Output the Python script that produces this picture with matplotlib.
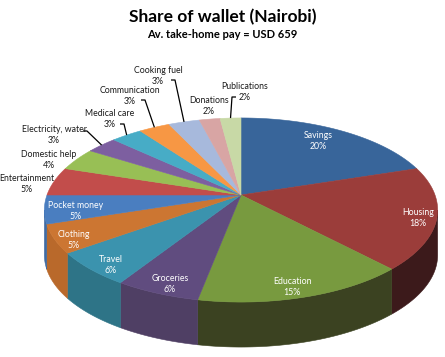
import numpy as np
import matplotlib.pyplot as plt

# share of wallet, percent
categories = ["Savings", "Housing", "Education", "Groceries", "Travel",
              "Clothing", "Pocket money", "Entertainment", "Domestic help",
              "Electricity, water", "Medical care", "Communication",
              "Cooking fuel", "Donations", "Publications"]
shares = [20, 18, 15, 6, 6, 5, 5, 5, 4, 3, 3, 3, 3, 2, 2]

title = "Share of wallet (Nairobi)"
subtitle = "Av. take-home pay = USD 659"

top_colors = ["#38659A", "#9B3D3A", "#789A3F", "#604C7F", "#3B93AE",
              "#CC7632", "#4A7EC0", "#C24D4B", "#98BF55", "#7D5FA0",
              "#47ACC6", "#F79744", "#A7B9DC", "#D8A5A4", "#C8D9A6"]
side_colors = ["#2A4B72", "#3C1A1B", "#3B4221", "#4F3F64", "#2E7487",
               "#B9692B", "#3F6BA3", "#A04040", "#7F9F47", "#685085",
               "#3B90A6", "#CF7E38", "#8C9CB9", "#B58A89", "#A7B68B"]

# label layout (pixel coords, y down)
label_pos = [(318, 141), (418, 218), (292, 287), (170, 284), (111, 265),
             (74, 240), (76, 211), (27, 184), (49, 160), (54, 135),
             (110, 119), (130, 96), (158, 76), (209, 106), (245, 92)]
inside = {"Savings", "Housing", "Education", "Groceries", "Travel",
          "Clothing", "Pocket money"}
# where the leader line leaves the label
leader_from = {"Electricity, water": (83, 131), "Medical care": (120, 124),
               "Communication": (141, 100), "Cooking fuel": (171, 80),
               "Publications": (236, 97)}

W, H = 445, 357
CX, CY = 241, 195
A, B, K = 194, 89.6, 0.163
DEPTH = 45


def project(phi, r=1.0, drop=0.0):
    u = r * np.sin(phi)
    v = -r * np.cos(phi)
    w = 1 - K * v
    return CX + A * u / w, CY + B * v / w + drop


fig = plt.figure(figsize=(W / 100, H / 100), dpi=100)
ax = fig.add_axes([0, 0, 1, 1])
ax.set_xlim(0, W)
ax.set_ylim(H, 0)
ax.axis("off")

fracs = np.array(shares, dtype=float) / sum(shares)
edges = np.concatenate([[0], np.cumsum(fracs)]) * 2 * np.pi

# front-facing part of the rim, between the left and right extremes
grid = np.linspace(0, 2 * np.pi, 3601)
gx, _ = project(grid)
phi_right = grid[:1800][np.argmax(gx[:1800])]
phi_left = grid[1800:][np.argmin(gx[1800:])]

for i in range(len(shares)):
    a, b = max(edges[i], phi_right), min(edges[i + 1], phi_left)
    if b <= a:
        continue
    t = np.linspace(a, b, 80)
    x1, y1 = project(t)
    x2, y2 = project(t[::-1], drop=DEPTH)
    ax.fill(np.r_[x1, x2], np.r_[y1, y2], color=side_colors[i],
            lw=0.4, ec=side_colors[i], zorder=1)

for i in range(len(shares)):
    t = np.linspace(edges[i], edges[i + 1], 120)
    x, y = project(t)
    ax.fill(np.r_[CX, x], np.r_[CY, y], color=top_colors[i],
            lw=0.4, ec=top_colors[i], zorder=2)

font = ["Lato", "DejaVu Sans"]
for i, name in enumerate(categories):
    lx, ly = label_pos[i]
    col = "white" if name in inside else "#1a1a1a"
    ax.text(lx, ly, f"{name}\n{shares[i]}%", ha="center", va="center",
            fontsize=6.3, color=col, family=font, linespacing=1.25, zorder=4)
    if name in leader_from:
        sx, sy = leader_from[name]
        mid = 0.5 * (edges[i] + edges[i + 1])
        ex, ey = project(mid)
        hx = sx + (4 if ex > sx - 4 else -4)
        ax.plot([sx, hx, ex], [sy, sy, ey], color="black", lw=0.9,
                zorder=3, solid_capstyle="butt")

fig.text(0.5, 1 - 17 / H, title, ha="center", va="center", fontsize=12.5,
         fontweight="bold", family=font)
fig.text(0.5, 1 - 34 / H, subtitle, ha="center", va="center", fontsize=8,
         fontweight="bold", family=font)

fig.savefig("out.png", dpi=100)
